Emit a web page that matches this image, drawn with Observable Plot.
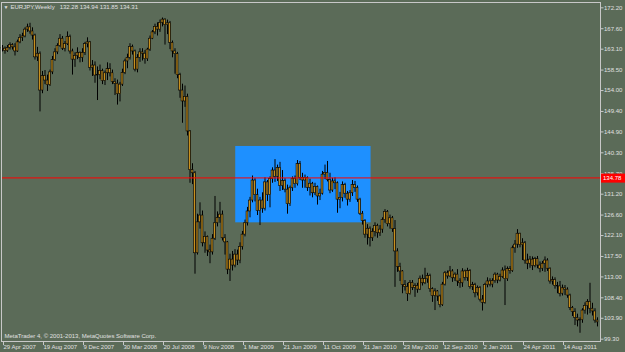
<!DOCTYPE html>
<html><head><meta charset="utf-8">
<script src="https://cdn.jsdelivr.net/npm/d3@7"></script>
<script src="https://cdn.jsdelivr.net/npm/@observablehq/plot@0.6"></script>
<style>
html,body{margin:0;padding:0;background:#5b6b58;}
#chart{position:relative;width:625px;height:352px;overflow:hidden;}
</style></head><body><div id="chart"></div>
<script>
// ---- data ----
const symbol = "EURJPY,Weekly";
const headerOHLC = ["132.28", "134.94", "131.85", "134.31"];
const copyright = "MetaTrader 4, © 2001-2013, MetaQuotes Software Corp.";
const firstWeek = "29 Apr 2007";
const firstOpen = 163.4;
const closes = [
163.2,162.7,163.4,164.0,163.5,162.6,164.6,165.6,165.9,167.4,
167.9,167.0,166.1,161.3,162.1,154.0,157.2,156.2,155.2,158.0,
160.7,162.4,163.8,165.4,163.2,164.2,165.8,162.6,160.8,161.6,
162.3,161.2,162.3,164.2,164.6,159.0,159.5,157.3,157.4,158.3,
156.1,157.8,158.7,157.8,155.9,155.5,153.2,155.3,157.9,160.4,
161.2,163.6,162.6,158.6,161.2,162.4,162.1,160.9,163.0,165.4,
166.8,168.0,167.4,168.9,169.6,168.4,168.8,164.5,162.6,162.0,
157.4,154.0,151.6,152.6,145.0,136.5,135.8,118.2,125.0,126.5,
120.4,121.8,118.8,118.4,121.4,124.8,126.0,126.7,121.5,120.6,
114.6,116.8,115.5,117.9,116.6,119.6,122.3,124.8,127.4,129.8,
134.2,131.0,127.5,129.8,128.0,133.8,131.0,134.5,136.4,135.0,
137.0,133.0,134.1,132.2,129.0,132.5,134.6,133.4,137.8,134.8,
134.2,134.8,132.6,133.5,131.4,132.8,130.7,131.3,135.5,135.9,
134.3,132.0,134.0,133.6,130.0,130.4,133.2,131.3,130.0,131.4,
133.2,132.6,130.0,126.9,125.3,122.3,123.6,121.5,122.9,124.2,
122.6,123.4,125.5,127.3,124.6,125.9,123.5,118.6,115.2,114.2,
111.2,110.8,109.2,111.7,110.6,111.0,110.2,112.6,111.6,112.5,
113.2,110.3,108.8,109.8,108.7,106.8,111.3,113.8,113.1,114.2,
112.7,113.5,112.0,111.6,114.2,112.8,114.3,110.8,111.2,109.4,
110.6,108.0,107.3,111.2,112.0,111.3,112.1,113.5,112.2,113.0,
114.4,112.5,114.7,114.3,119.3,120.1,122.5,120.0,120.4,116.6,
115.9,116.8,115.4,116.9,115.5,114.8,115.9,116.6,114.8,112.0,
112.3,111.0,110.9,109.3,110.5,110.2,108.9,106.2,105.3,104.0,
103.4,103.5,105.6,106.6,107.5,106.0,105.4,103.4,103.0];
const highs = [
163.9,163.6,163.9,164.5,164.3,164.3,165.1,166.3,166.6,167.8,
168.6,168.8,167.8,166.4,163.5,162.5,158.2,158.4,157.4,158.5,
161.5,163.2,164.3,166.3,165.9,164.8,166.9,166.2,163.1,162.3,
163.4,162.5,163.2,164.6,165.6,164.8,160.6,160.3,159.2,159.6,
158.7,158.3,160.1,159.9,158.5,156.6,156.3,155.8,158.7,160.9,
162.0,164.3,164.0,162.9,161.9,163.2,163.2,162.8,163.3,166.0,
167.2,168.6,168.9,169.5,169.96,169.8,169.5,169.2,164.9,163.2,
162.4,157.8,155.4,155.0,153.2,145.2,137.9,136.2,126.8,129.3,
127.5,122.9,122.0,120.0,122.3,130.7,127.3,129.4,127.5,122.3,
120.8,118.0,118.6,119.0,118.9,120.5,123.0,125.5,128.3,130.5,
135.2,134.6,132.3,130.5,131.5,134.8,134.2,135.0,137.0,138.8,
137.6,138.2,136.4,134.6,133.2,133.0,135.0,135.2,138.6,138.4,
135.8,135.4,135.0,134.5,133.8,133.6,133.0,132.3,136.2,137.6,
138.4,135.8,134.7,134.8,133.9,131.6,133.9,133.6,131.8,132.0,
134.2,134.0,133.0,130.3,127.4,125.6,124.5,124.0,123.6,124.9,
124.6,124.3,126.0,127.8,127.6,126.6,126.3,125.4,119.2,116.0,
114.4,112.2,111.6,112.2,112.2,111.5,111.6,113.2,113.4,114.9,
113.8,113.6,110.6,110.4,110.0,109.0,111.8,114.2,114.3,115.3,
114.6,113.9,114.6,112.6,114.8,114.5,114.9,114.6,111.8,111.6,
111.0,110.9,108.9,111.6,112.8,112.6,112.6,113.9,113.8,113.6,
115.0,115.4,115.2,115.3,119.8,121.0,123.4,122.6,121.4,120.8,
118.0,117.5,117.4,117.3,117.5,116.3,116.4,117.4,117.0,115.0,
113.0,112.8,111.8,112.0,111.2,111.1,110.6,109.2,106.5,106.0,
104.8,104.0,106.0,107.3,108.0,111.6,107.2,106.0,104.0];
const lows = [
162.5,162.0,162.4,162.9,162.9,161.6,162.4,164.3,164.8,165.6,
166.8,166.4,165.1,160.7,160.4,149.3,153.3,155.3,153.8,154.9,
157.5,160.4,161.9,163.5,162.8,162.5,163.9,162.0,157.4,159.1,
160.8,160.1,160.2,161.7,163.4,158.3,157.1,155.6,151.8,156.4,
155.3,155.1,156.2,157.0,155.3,152.9,150.8,151.5,154.9,157.5,
158.8,160.7,161.8,158.1,157.9,160.2,160.5,159.8,160.4,162.6,
165.2,166.3,166.0,166.8,168.0,164.0,166.3,163.0,161.2,157.6,
156.6,152.3,146.8,150.3,144.0,133.6,133.3,113.6,117.8,123.5,
119.6,118.2,117.5,115.9,117.8,121.0,124.0,124.8,120.9,117.8,
113.5,112.0,114.3,115.0,115.5,115.9,118.9,121.8,124.2,126.0,
129.3,129.5,126.5,124.3,127.0,127.5,129.6,128.2,133.6,133.8,
134.0,131.8,132.0,131.5,126.8,128.5,131.8,132.5,133.0,134.2,
132.5,132.5,131.8,130.8,130.4,130.9,128.8,129.8,131.0,134.4,
133.9,131.3,131.6,132.2,127.0,128.0,129.5,130.3,128.6,129.4,
130.7,131.6,129.4,126.5,124.4,121.5,120.0,119.6,120.8,121.8,
121.5,121.9,122.6,124.8,124.0,123.5,122.8,110.7,114.0,112.0,
109.3,109.9,107.6,109.0,110.0,108.5,109.4,110.0,111.0,111.3,
111.6,109.6,107.4,105.6,107.6,106.2,106.5,111.0,112.5,112.9,
111.8,112.0,110.9,110.5,110.7,112.1,112.0,110.3,110.0,108.4,
108.8,107.5,105.5,107.0,110.6,110.8,110.6,111.6,111.5,111.9,
112.7,106.7,112.0,113.6,114.0,118.2,119.3,119.4,116.6,115.8,
114.6,114.9,114.4,115.0,114.8,113.9,114.2,114.0,114.2,111.4,
111.2,110.3,109.3,108.6,108.8,108.9,108.3,105.6,104.3,102.3,
102.0,100.6,102.8,104.8,104.6,104.9,104.4,102.8,102.0];
const priceTicks = [172.20,167.60,163.10,158.50,154.00,149.40,144.90,140.30,135.70,131.20,126.60,122.10,117.50,113.00,108.40,103.90,99.30];
const dateLabels = ["29 Apr 2007","19 Aug 2007","9 Dec 2007","30 Mar 2008","20 Jul 2008","9 Nov 2008","1 Mar 2009","21 Jun 2009","11 Oct 2009","31 Jan 2010","23 May 2010","12 Sep 2010","2 Jan 2011","24 Apr 2011","14 Aug 2011"];
const bidPrice = 134.78;
const zoneDates = ["10 Feb 2009", "24 Feb 2010"];
const zonePrices = [124.9, 141.7];

// ---- build ----
const parse = d3.utcParse("%e %b %Y");
const start = parse(firstWeek);
const weekOf = s => (parse(s) - start) / (7 * 864e5);
const tickWeeks = dateLabels.map(s => Math.round(weekOf(s)));
const labelByWeek = new Map(tickWeeks.map((w, i) => [w, dateLabels[i]]));
const rows = closes.map((c, i) => ({week: i, open: i === 0 ? firstOpen : closes[i - 1], high: highs[i], low: lows[i], close: c}));
const zone = [{w1: weekOf(zoneDates[0]), w2: weekOf(zoneDates[1]), p1: zonePrices[0], p2: zonePrices[1]}];

const bg = "#5b6b58", candleFill = "#c8901e", textColor = "#e0e0e0", axisColor = "#c8c8c8";
const font = "'Liberation Sans', Arial, sans-serif";
const nb = "\u00a0";
const header = symbol + nb + nb + nb + headerOHLC.join(nb);

const chart = Plot.plot({
  width: 625, height: 352,
  marginLeft: 1, marginTop: 2, marginRight: 25, marginBottom: 11,
  style: {background: bg, fontFamily: font, fontSize: "6px", color: textColor, overflow: "visible"},
  x: {type: "linear", domain: [-0.4, 239.2]},
  y: {domain: [98.79, 173.37]},
  marks: [
    Plot.rect(zone, {x1: "w1", x2: "w2", y1: "p1", y2: "p2", fill: "#1e90ff"}),
    Plot.ruleX(rows, {x: "week", y1: "low", y2: "high", stroke: "#000", strokeWidth: 1}),
    Plot.rect(rows, {x1: d => d.week - 0.38, x2: d => d.week + 0.38, y1: "open", y2: "close", fill: candleFill, stroke: "#000", strokeWidth: 0.6}),
    Plot.ruleY([bidPrice], {stroke: "#ff0000", strokeWidth: 1}),
    Plot.frame({stroke: axisColor}),
    Plot.axisY(priceTicks, {anchor: "right", tickSize: 2.5, tickPadding: 1, tickFormat: d => d.toFixed(2), fontSize: 6, stroke: axisColor, fill: textColor}),
    Plot.axisX(tickWeeks, {anchor: "bottom", tickSize: 4, tickPadding: -0.5, tickFormat: d => labelByWeek.get(d), textAnchor: "start", dx: 1, fontSize: 6, stroke: axisColor, fill: textColor}),
    Plot.text([header], {frameAnchor: "top-left", dx: 9, dy: 2.7, lineAnchor: "top", textAnchor: "start", fill: textColor, fontSize: 6}),
    Plot.text(["▼"], {frameAnchor: "top-left", dx: 2, dy: 2.5, lineAnchor: "top", textAnchor: "start", fill: textColor, fontSize: 5}),
    Plot.text([copyright], {frameAnchor: "bottom-left", dx: 3, dy: -4, lineAnchor: "bottom", textAnchor: "start", fill: textColor, fontSize: 6})
  ]
});
document.getElementById("chart").appendChild(chart);

// bid price label on the right axis
const svg = d3.select(chart);
const yb = chart.scale("y").apply(bidPrice);
svg.append("rect").attr("x", 601).attr("y", yb - 3.8).attr("width", 24).attr("height", 9).attr("fill", "#ff0000");
svg.append("text").attr("x", 603).attr("y", yb + 2.8).attr("fill", "#ffffff")
  .attr("text-anchor", "start").attr("font-family", font).attr("font-size", 6).text(bidPrice.toFixed(2));
</script></body></html>
